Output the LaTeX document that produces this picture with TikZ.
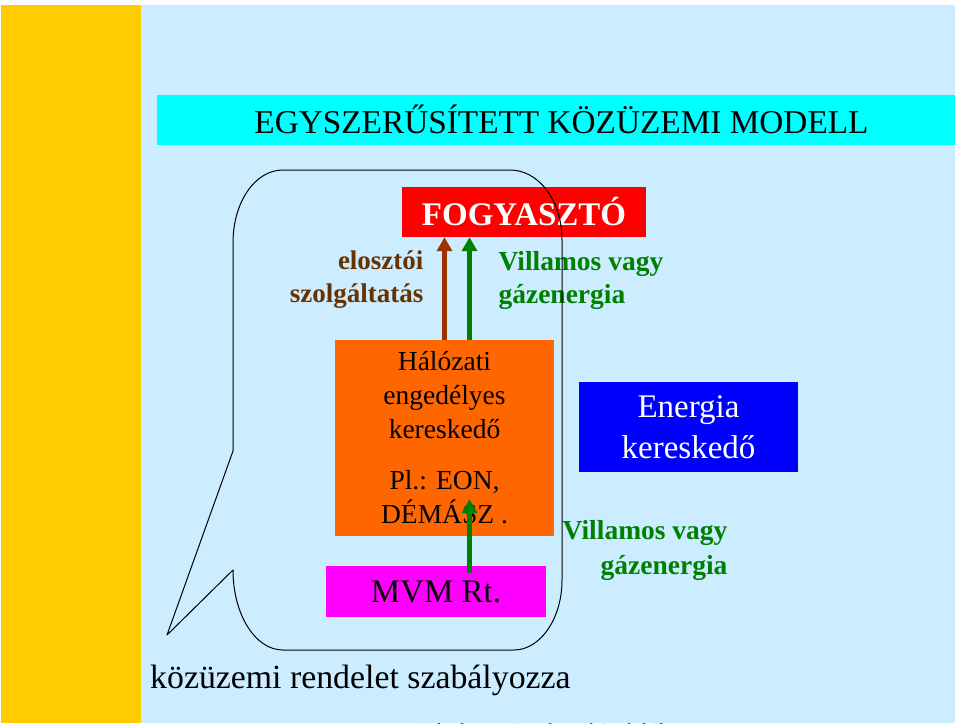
\documentclass[tikz,border=0pt]{standalone}
\usepackage{fontspec}
\setmainfont{Liberation Serif}
\usetikzlibrary{arrows.meta,calc}
\definecolor{hatter}{HTML}{CCECFF}
\definecolor{sarga}{HTML}{FFCC00}
\definecolor{cian}{HTML}{00FFFF}
\definecolor{piros}{HTML}{FF0000}
\definecolor{narancs}{HTML}{FF6600}
\definecolor{bibor}{HTML}{FF00FF}
\definecolor{kek}{HTML}{0000FF}
\definecolor{zold}{HTML}{008000}
\definecolor{barna}{HTML}{663300}
\definecolor{barnanyil}{HTML}{993300}
\definecolor{lila}{HTML}{333399}
\tikzset{
    doboz/.style={inner sep=0pt,align=center},
    folyam/.style={line width=5pt,-{Triangle[width=15pt,length=14pt]}},
}

\begin{document}
\begin{tikzpicture}[x=1pt,y=-1pt,line join=round]
    \useasboundingbox (0,0) rectangle (960,723);
    % hatter
    \fill[white] (0,0) rectangle (960,723);
    \fill[hatter] (141,5) rectangle (955,723);
    \fill[sarga] (1,5) rectangle (141,723);
    \fill[cian] (157,95) rectangle (955,145);
    \node[anchor=base,font=\fontsize{33.3}{40}\selectfont] (cim) at (561.5,133.5) {EGYSZERŰSÍTETT KÖZÜZEMI MODELL};
    % dobozok
    \node[doboz,fill=piros,text=white,minimum width=244pt,minimum height=50pt,
        font=\bfseries\fontsize{33}{40}\selectfont] (fogy) at (524,212) {FOGYASZTÓ};
    \node[doboz,fill=narancs,minimum width=219pt,minimum height=196pt,
        font=\fontsize{27.5}{34}\selectfont] (halo) at (444.5,438)
        {Hálózati\\engedélyes\\kereskedő\\[17pt]Pl.: EON,\\DÉMÁSZ .};
    \node[doboz,fill=bibor,minimum width=220pt,minimum height=51pt,
        font=\fontsize{33}{40}\selectfont] (mvm) at (436,591.5) {MVM Rt.};
    \node[doboz,fill=kek,text=white,minimum width=219pt,minimum height=90pt,
        font=\fontsize{33}{41}\selectfont] (keresk) at (688.5,427) {Energia\\kereskedő};
    % feliratok
    \node[anchor=east,align=right,text=barna,font=\bfseries\fontsize{27}{33}\selectfont]
        (eloszto) at (427,280) {elosztói\\szolgáltatás};
    \node[anchor=west,align=left,text=zold,font=\bfseries\fontsize{27.5}{33}\selectfont]
        (energia1) at (495,280) {Villamos vagy\\gázenergia};
    \node[anchor=east,align=right,text=zold,font=\bfseries\fontsize{27.5}{35}\selectfont]
        (energia2) at (731,550) {Villamos vagy\\gázenergia};
    \node[anchor=west,inner sep=0pt,font=\fontsize{33.8}{40}\selectfont] (rendelet) at (150,680)
        {közüzemi rendelet szabályozza};
    \node[anchor=base west,inner sep=0pt,text=lila,font=\fontsize{20}{24}\selectfont] (keszito) at (418,737)
        {Készítette: Fazekasné Szabó Ilona};
    % nyilak
    \draw[folyam,barnanyil] (halo.north) -- (halo.north |- fogy.south);
    \draw[folyam,zold] ($(halo.north)+(25,0)$) -- ($(halo.north |- fogy.south)+(25,0)$);
    \draw[folyam,zold] ($(mvm.north -| halo.north)+(25,7)$) -- ($(halo.south)+(25,-37)$);
    % kozuzemi buborek
    \draw[line width=1pt] (233,451) -- (167,635) -- (233,570)
        .. controls (233,614) and (255,650) .. (283,650) -- (514,650)
        .. controls (540,650) and (562,619) .. (562,580) -- (562,240)
        .. controls (562,201) and (539,170) .. (510,170) -- (283,170)
        .. controls (255,170) and (233,202) .. (233,243) -- cycle;
\end{tikzpicture}
\end{document}
